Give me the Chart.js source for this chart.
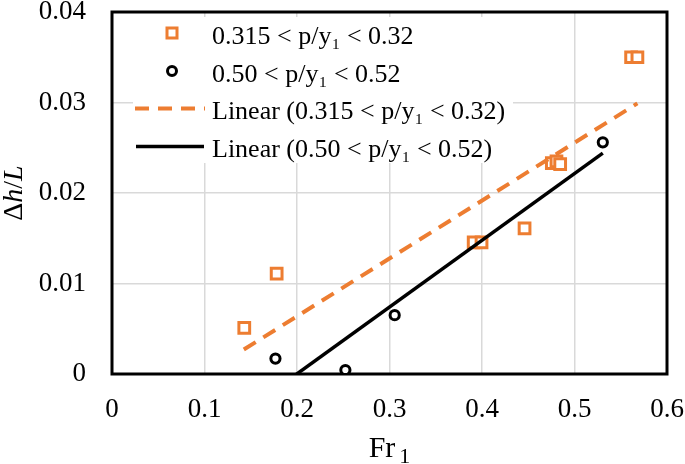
<!DOCTYPE html>
<html lang="en">
<head>
    <meta charset="UTF-8">
    <title>Δh/L vs Fr1</title>
    <script src="https://cdn.jsdelivr.net/npm/chart.js"></script>
    <style>
        body {
            margin: 0;
            padding: 0;
            background-color: white;
        }
        .grafico-container {
            width: 685px;
            height: 464px;
            position: relative;
        }
    </style>
</head>
<body>

<div class="grafico-container">
    <canvas id="grafico"></canvas>
</div>

<script>
    // values
    const sqX = [0.143, 0.178, 0.391, 0.3995, 0.446, 0.4755, 0.4805, 0.4845, 0.5612, 0.568];
    const sqY = [0.0051, 0.0111, 0.01455, 0.01455, 0.0161, 0.0233, 0.0235, 0.0232, 0.035, 0.035];
    const circX = [0.1767, 0.2523, 0.3056, 0.5306];
    const circY = [0.0017, 0.00044, 0.0065, 0.0256];
    // trendline end points (Excel "Linear")
    const sqFitX = [0.1425, 0.568];
    const sqFitY = [0.0027, 0.0299];
    const circFitX = [0.1767, 0.5306];
    const circFitY = [-0.0017, 0.0244];

    const xTickLabels = ['0', '0.1', '0.2', '0.3', '0.4', '0.5', '0.6'];
    const yTickLabels = ['0', '0.01', '0.02', '0.03', '0.04'];
    const legendLabels = [
        '0.315 < p/y₁ < 0.32',
        '0.50 < p/y₁ < 0.52',
        'Linear (0.315 < p/y₁ < 0.32)',
        'Linear (0.50 < p/y₁ < 0.52)'
    ];

    const ORANGE = '#ED7D31';
    const SERIF = "'Liberation Serif', 'Times New Roman', serif";

    function pts(xs, ys) {
        return xs.map((x, i) => ({ x: x, y: ys[i] }));
    }

    const boxAndTitles = {
        id: 'boxAndTitles',
        beforeDatasetsDraw(chart) {
            const a = chart.chartArea;
            const ctx = chart.ctx;
            ctx.save();
            ctx.strokeStyle = 'black';
            ctx.lineWidth = 3;
            ctx.strokeRect(a.left, a.top, a.right - a.left, a.bottom - a.top);
            ctx.restore();
        },
        afterDatasetsDraw(chart) {
            const a = chart.chartArea;
            const ctx = chart.ctx;
            ctx.save();
            // legend box sits inside the plot, white behind it
            ctx.fillStyle = 'white';
            ctx.fillRect(a.left + 21, 17, 380, 146);

            const rows = [33, 71, 108.5, 146.5];
            const mx = a.left + 60;
            // square marker
            ctx.lineWidth = 3;
            ctx.strokeStyle = ORANGE;
            ctx.strokeRect(mx - 5, rows[0] - 5, 10, 10);
            // circle marker
            ctx.strokeStyle = 'black';
            ctx.beginPath();
            ctx.arc(mx, rows[1], 4.5, 0, Math.PI * 2);
            ctx.stroke();
            // dashed line
            ctx.lineWidth = 4;
            ctx.strokeStyle = ORANGE;
            ctx.setLineDash([14, 9]);
            ctx.beginPath();
            ctx.moveTo(a.left + 23, rows[2]);
            ctx.lineTo(a.left + 93, rows[2]);
            ctx.stroke();
            ctx.setLineDash([]);
            ctx.lineWidth = 3.5;
            ctx.strokeStyle = 'black';
            ctx.beginPath();
            ctx.moveTo(a.left + 24, rows[3]);
            ctx.lineTo(a.left + 92, rows[3]);
            ctx.stroke();

            ctx.fillStyle = 'black';
            ctx.font = '26px ' + SERIF;
            ctx.textAlign = 'left';
            ctx.textBaseline = 'alphabetic';
            legendLabels.forEach((t, i) => {
                ctx.fillText(t, a.left + 100, rows[i] + 10.5);
            });
            ctx.restore();
        },
        afterDraw(chart) {
            const a = chart.chartArea;
            const ctx = chart.ctx;
            ctx.save();
            ctx.fillStyle = 'black';
            ctx.textBaseline = 'alphabetic';

            // x title: Fr with subscript 1
            ctx.font = '30px ' + SERIF;
            const frW = ctx.measureText('Fr').width;
            ctx.font = '22px ' + SERIF;
            const oneW = ctx.measureText('1').width;
            const cx = (a.left + a.right) / 2;
            let x0 = cx - (frW + 4 + oneW) / 2;
            ctx.font = '30px ' + SERIF;
            ctx.textAlign = 'left';
            ctx.fillText('Fr', x0, 457);
            ctx.font = '22px ' + SERIF;
            ctx.fillText('1', x0 + frW + 4, 463);

            // y title: Δh/L with italic h and L
            const parts = [['Δ', ''], ['h', 'italic '], ['/', ''], ['L', 'italic ']];
            let total = 0;
            parts.forEach(p => {
                ctx.font = p[1] + '28px ' + SERIF;
                total += ctx.measureText(p[0]).width;
            });
            ctx.translate(22, (a.top + a.bottom) / 2);
            ctx.rotate(-Math.PI / 2);
            let px = -total / 2;
            parts.forEach(p => {
                ctx.font = p[1] + '28px ' + SERIF;
                ctx.fillText(p[0], px, 0);
                px += ctx.measureText(p[0]).width;
            });
            ctx.restore();
        }
    };

    const ctx = document.getElementById('grafico').getContext('2d');
    const myChart = new Chart(ctx, {
        type: 'scatter',
        data: {
            datasets: [
                {
                    label: legendLabels[2],
                    type: 'line',
                    data: pts(sqFitX, sqFitY),
                    borderColor: ORANGE,
                    borderWidth: 4,
                    borderDash: [14, 9],
                    pointRadius: 0,
                    fill: false,
                    clip: 0,
                    order: 0
                },
                {
                    label: legendLabels[3],
                    type: 'line',
                    data: pts(circFitX, circFitY),
                    borderColor: 'black',
                    borderWidth: 3.5,
                    pointRadius: 0,
                    fill: false,
                    clip: 0,
                    order: 0
                },
                {
                    label: legendLabels[0],
                    data: pts(sqX, sqY),
                    pointStyle: 'rect',
                    pointRadius: 7.6,
                    borderWidth: 3,
                    borderColor: ORANGE,
                    backgroundColor: 'white',
                    order: 2
                },
                {
                    label: legendLabels[1],
                    data: pts(circX, circY),
                    pointStyle: 'circle',
                    pointRadius: 4.6,
                    borderWidth: 3,
                    borderColor: 'black',
                    backgroundColor: 'white',
                    order: 1
                }
            ]
        },
        options: {
            responsive: true,
            maintainAspectRatio: false,
            animation: false,
            layout: { padding: { top: 12, right: 18, bottom: 0, left: 0 } },
            plugins: {
                legend: { display: false },
                tooltip: { enabled: false }
            },
            scales: {
                x: {
                    type: 'linear',
                    min: 0,
                    max: 0.6,
                    afterFit(scale) {
                        scale.height = 90;
                        scale.paddingLeft = 0;
                        scale.paddingRight = 0;
                    },
                    ticks: {
                        stepSize: 0.1,
                        padding: 20,
                        color: 'black',
                        maxRotation: 0,
                        font: { family: SERIF, size: 27 },
                        callback: (v, i) => xTickLabels[i]
                    },
                    grid: { color: '#d9d9d9', lineWidth: 1.5, drawTicks: false },
                    border: { display: false }
                },
                y: {
                    type: 'linear',
                    min: 0,
                    max: 0.04,
                    afterFit(scale) {
                        scale.width = 112;
                        scale.paddingTop = 0;
                        scale.paddingBottom = 0;
                    },
                    ticks: {
                        stepSize: 0.01,
                        padding: 26,
                        color: 'black',
                        font: { family: SERIF, size: 27 },
                        callback: (v, i) => yTickLabels[i]
                    },
                    grid: { color: '#d9d9d9', lineWidth: 1.5, drawTicks: false },
                    border: { display: false }
                }
            }
        },
        plugins: [boxAndTitles]
    });
</script>

</body>
</html>
